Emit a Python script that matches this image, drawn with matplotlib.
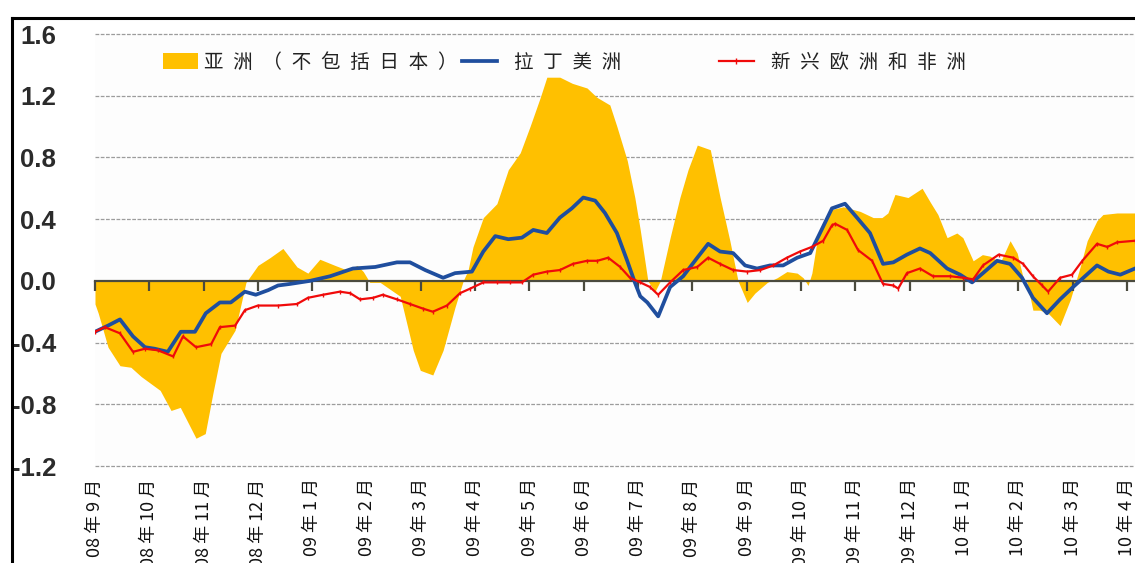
import matplotlib
matplotlib.use('Agg')
import matplotlib.pyplot as plt
from matplotlib.lines import Line2D
from matplotlib.patches import Patch
import numpy as np

plt.rcParams['font.family'] = ['Noto Sans CJK SC', 'DejaVu Sans']

# ---------------- data ----------------
month_labels = ['08年9月', '08年10月', '08年11月', '08年12月', '09年1月', '09年2月',
                '09年3月', '09年4月', '09年5月', '09年6月', '09年7月', '09年8月',
                '09年9月', '09年10月', '09年11月', '09年12月', '10年1月', '10年2月',
                '10年3月', '10年4月']

series_names = ['亚洲（不包括日本）', '拉丁美洲', '新兴欧洲和非洲']

# x = months since Sep 2008
asia_x = [0, 0.06, 0.24, 0.46, 0.66, 0.85, 1.20, 1.40, 1.57, 1.86, 2.03, 2.17, 2.32, 2.58,
          2.78, 3.00, 3.22, 3.46, 3.72, 3.92, 4.14, 4.42, 4.64, 4.83, 4.94, 5.06, 5.25,
          5.62, 5.86, 5.99, 6.22, 6.41, 6.63, 6.78, 6.87, 6.96, 7.15, 7.40, 7.61, 7.83,
          8.01, 8.20, 8.32, 8.56, 8.79, 9.06, 9.24, 9.48, 9.61, 9.80, 9.94, 10.04, 10.18,
          10.31, 10.41, 10.59, 10.77, 10.92, 11.09, 11.33, 11.51, 11.69, 11.84, 12.01,
          12.15, 12.38, 12.56, 12.74, 12.93, 13.04, 13.13, 13.20, 13.30, 13.54, 13.78,
          14.09, 14.33, 14.49, 14.60, 14.73, 14.97, 15.23, 15.38, 15.52, 15.69, 15.87,
          15.98, 16.17, 16.34, 16.48, 16.67, 16.85, 16.98, 17.09, 17.16, 17.27, 17.40,
          17.55, 17.77, 17.96, 18.14, 18.27, 18.45, 18.56, 18.82, 19.15]
asia_y = [-0.15, -0.21, -0.43, -0.55, -0.56, -0.62, -0.71, -0.84, -0.82, -1.02, -0.99, -0.73,
          -0.47, -0.32, -0.01, 0.10, 0.15, 0.21, 0.09, 0.05, 0.14, 0.10, 0.07, 0.10, 0.06,
          -0.01, -0.01, -0.10, -0.45, -0.58, -0.61, -0.45, -0.17, 0.00, 0.07, 0.22, 0.41,
          0.50, 0.72, 0.83, 1.00, 1.19, 1.32, 1.32, 1.28, 1.25, 1.19, 1.14, 1.00, 0.78,
          0.54, 0.33, 0.00, -0.07, 0.00, 0.28, 0.54, 0.72, 0.88, 0.85, 0.54, 0.26, 0.00,
          -0.14, -0.08, -0.01, 0.02, 0.06, 0.05, 0.02, -0.03, 0.05, 0.27, 0.46, 0.48, 0.45,
          0.41, 0.41, 0.44, 0.56, 0.54, 0.60, 0.51, 0.43, 0.28, 0.31, 0.28, 0.13, 0.17,
          0.16, 0.12, 0.26, 0.18, 0.02, -0.01, -0.19, -0.19, -0.21, -0.29, -0.12, 0.09,
          0.26, 0.39, 0.43, 0.44, 0.44]

latam_x = [0, 0.24, 0.46, 0.70, 0.92, 1.10, 1.34, 1.58, 1.84, 2.04, 2.30, 2.50, 2.76, 2.96,
           3.19, 3.37, 3.59, 3.96, 4.33, 4.75, 5.16, 5.56, 5.80, 6.08, 6.41, 6.63, 6.94,
           7.15, 7.37, 7.61, 7.86, 8.07, 8.32, 8.56, 8.78, 8.99, 9.21, 9.39, 9.61, 9.80,
           9.94, 10.04, 10.17, 10.37, 10.59, 10.83, 11.09, 11.29, 11.51, 11.75, 11.97,
           12.19, 12.43, 12.67, 12.93, 13.17, 13.35, 13.57, 13.81, 14.03, 14.27, 14.51,
           14.70, 14.95, 15.19, 15.38, 15.69, 15.93, 16.15, 16.35, 16.61, 16.85, 17.07,
           17.27, 17.53, 17.77, 18.01, 18.23, 18.45, 18.66, 18.88, 19.15]
latam_y = [-0.33, -0.29, -0.25, -0.36, -0.43, -0.44, -0.46, -0.33, -0.33, -0.21, -0.14, -0.14,
           -0.07, -0.09, -0.06, -0.03, -0.02, 0.00, 0.03, 0.08, 0.09, 0.12, 0.12, 0.07, 0.02,
           0.05, 0.06, 0.19, 0.29, 0.27, 0.28, 0.33, 0.31, 0.41, 0.47, 0.54, 0.52, 0.44,
           0.31, 0.13, -0.01, -0.10, -0.14, -0.23, -0.04, 0.03, 0.15, 0.24, 0.19, 0.18,
           0.10, 0.08, 0.10, 0.10, 0.15, 0.18, 0.31, 0.47, 0.50, 0.41, 0.31, 0.11, 0.12,
           0.17, 0.21, 0.18, 0.08, 0.04, -0.01, 0.05, 0.13, 0.11, 0.02, -0.11, -0.21, -0.12,
           -0.04, 0.03, 0.10, 0.06, 0.04, 0.08]

emea_x = [0, 0.18, 0.46, 0.70, 0.92, 1.16, 1.44, 1.62, 1.86, 2.14, 2.30, 2.58, 2.76, 3.00,
          3.37, 3.72, 3.92, 4.20, 4.51, 4.70, 4.88, 5.12, 5.30, 5.56, 5.80, 6.04, 6.22,
          6.48, 6.72, 6.91, 7.15, 7.40, 7.64, 7.86, 8.07, 8.32, 8.56, 8.80, 9.06, 9.25,
          9.45, 9.67, 9.85, 10.04, 10.22, 10.37, 10.59, 10.83, 11.09, 11.29, 11.51, 11.75,
          12.01, 12.25, 12.49, 12.74, 12.98, 13.20, 13.41, 13.57, 13.63, 13.85, 14.05,
          14.31, 14.51, 14.70, 14.79, 14.95, 15.19, 15.43, 15.75, 15.99, 16.17, 16.35,
          16.64, 16.91, 17.09, 17.27, 17.44, 17.55, 17.77, 17.99, 18.18, 18.45, 18.64,
          18.82, 19.15]
emea_y = [-0.33, -0.30, -0.34, -0.46, -0.44, -0.45, -0.49, -0.36, -0.43, -0.41, -0.30, -0.29,
          -0.19, -0.16, -0.16, -0.15, -0.11, -0.09, -0.07, -0.08, -0.12, -0.11, -0.09, -0.12,
          -0.15, -0.18, -0.20, -0.16, -0.08, -0.05, -0.01, -0.01, -0.01, -0.01, 0.04, 0.06,
          0.07, 0.11, 0.13, 0.13, 0.15, 0.09, 0.02, -0.01, -0.04, -0.09, -0.01, 0.07, 0.09,
          0.15, 0.11, 0.07, 0.06, 0.07, 0.10, 0.15, 0.19, 0.22, 0.26, 0.36, 0.37, 0.33,
          0.20, 0.13, -0.02, -0.03, -0.05, 0.05, 0.08, 0.03, 0.03, 0.02, 0.01, 0.10, 0.17,
          0.15, 0.11, 0.03, -0.03, -0.07, 0.02, 0.04, 0.13, 0.24, 0.22, 0.25, 0.26]

y_ticks = [-1.2, -0.8, -0.4, 0.0, 0.4, 0.8, 1.2, 1.6]

# ---------------- styling ----------------
YELLOW = '#FFC000'
BLUE = '#1F4E9E'
RED = '#F00A0A'
AXIS_C = '#4a4a3e'

W, H = 1135, 563
fig = plt.figure(figsize=(W / 100, H / 100), dpi=100)
fig.patch.set_facecolor('white')
ax = fig.add_axes([95 / W, (H - 466) / H, (W - 95) / W, 432 / H])
ax.set_facecolor('#FDFDFD')
ax.set_xlim(0, 19.15)
ax.set_ylim(-1.2, 1.6)

# grid (manual so that it sits beneath the fill while ticks stay on top)
for yv in y_ticks:
    if yv != 0:
        ax.axhline(yv, color='#9c9c9c', lw=0.9, ls=(0, (3, 1.2)), zorder=0.5,
                   clip_on=False)

ax.fill_between(asia_x, asia_y, 0, color=YELLOW, lw=0, zorder=1)
ax.plot(latam_x, latam_y, color=BLUE, lw=2.7, zorder=3, solid_joinstyle='round')
ax.plot(emea_x, emea_y, color=RED, lw=1.6, zorder=4, marker='|', ms=3.5, mew=1.0)

for s in ['left', 'right', 'top']:
    ax.spines[s].set_visible(False)
ax.spines['bottom'].set_position(('data', 0))
ax.spines['bottom'].set_color(AXIS_C)
ax.spines['bottom'].set_linewidth(1.6)
ax.spines['bottom'].set_zorder(2.5)

ax.set_xticks(range(len(month_labels)))
ax.tick_params(axis='x', direction='out', length=7, width=1.6, color=AXIS_C,
               labelbottom=False)

ax.set_yticks(y_ticks)
ax.set_yticklabels([f'{v:.1f}' for v in y_ticks], fontsize=18.5, fontweight='bold',
                   family='Liberation Sans', color='#2b2b2b')
ax.tick_params(axis='y', length=0, pad=28)

def spaced_month(s):
    return s.replace('年', ' 年 ').replace('月', ' 月')

sec = ax.secondary_xaxis('bottom')
sec.set_xticks(range(len(month_labels)))
sec.set_xticklabels([spaced_month(m) for m in month_labels], rotation=90,
                    fontsize=13, color='#111111')
sec.tick_params(length=0, pad=9)
sec.spines['bottom'].set_visible(False)

# legends (three separate entries to match spacing)
def spaced(s):
    return '\u2002'.join(list(s))

leg_kw = dict(frameon=False, loc='center left', borderpad=0, borderaxespad=0,
              bbox_transform=fig.transFigure, prop={'size': 14},
              labelcolor='#222222')
ly = 1 - 62 / H
l1 = fig.legend([Patch(facecolor=YELLOW, edgecolor='none')], [spaced(series_names[0])],
                bbox_to_anchor=(163 / W, ly), handlelength=1.8, handleheight=0.9,
                handletextpad=0.3, **leg_kw)
l2 = fig.legend([Line2D([], [], color=BLUE, lw=2.7)], [spaced(series_names[1])],
                bbox_to_anchor=(462 / W, ly), handlelength=1.8,
                handletextpad=0.9, **leg_kw)
l3 = fig.legend([Line2D([], [], color=RED, lw=1.6, marker='|', ms=4, mew=1.0)],
                [spaced(series_names[2])], numpoints=1,
                bbox_to_anchor=(719 / W, ly), handlelength=1.8,
                handletextpad=0.9, **leg_kw)

# outer frame (cropped screenshot border)
fig.add_artist(Line2D([12 / W, 12 / W], [0, 1 - 18 / H], color='black', lw=2.2,
                      transform=fig.transFigure))
fig.add_artist(Line2D([12 / W, 1], [1 - 18 / H, 1 - 18 / H], color='black', lw=2.2,
                      transform=fig.transFigure))

fig.savefig('out.png', dpi=100)
